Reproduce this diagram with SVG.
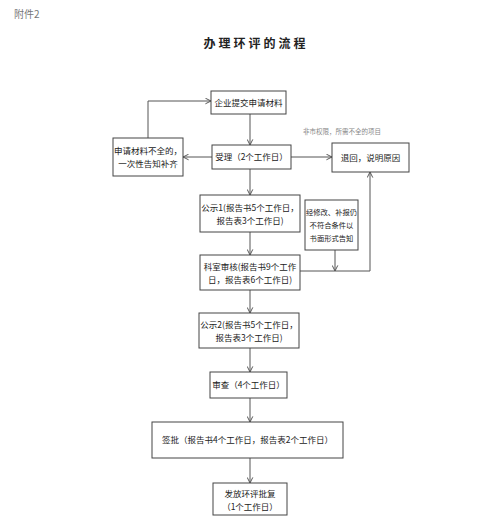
<svg xmlns="http://www.w3.org/2000/svg" width="500" height="526" viewBox="0 0 500 526">
<defs>
<style>
.box{fill:#fff;stroke:#444;stroke-width:1}
.t{font-family:"Noto Sans CJK SC","Liberation Sans",sans-serif;font-size:8.5px;fill:#222;text-anchor:middle}
.s{font-size:7.3px}
.c{fill:none;stroke:#555;stroke-width:1}
</style>
<marker id="a" viewBox="0 0 10 10" refX="9" refY="5" markerWidth="7" markerHeight="7" orient="auto" markerUnits="userSpaceOnUse">
<path d="M1,1 L9,5 L1,9" fill="none" stroke="#555" stroke-width="1.4"/>
</marker>
</defs>
<rect width="500" height="526" fill="#fff"/>
<text x="14" y="18" style="font-family:'Noto Sans CJK SC',sans-serif;font-size:10px;fill:#777">附件2</text>
<text x="256" y="48" style="font-family:'Noto Sans CJK SC',sans-serif;font-size:12px;font-weight:bold;fill:#222;letter-spacing:3px" text-anchor="middle">办理环评的流程</text>
<text x="342" y="134" style="font-family:'Noto Sans CJK SC',serif;font-size:6.5px;fill:#888" text-anchor="middle">非市权限，所需不全的项目</text>
<g id="connectors">
<path class="c" d="M250,114 V145" marker-end="url(#a)"/>
<path class="c" d="M212,157 H183" marker-end="url(#a)"/>
<path class="c" d="M148,138 V101 H211" marker-end="url(#a)"/>
<path class="c" d="M291,157 H332" marker-end="url(#a)"/>
<path class="c" d="M250,169 V195" marker-end="url(#a)"/>
<path class="c" d="M250,232 V255" marker-end="url(#a)"/>
<path class="c" d="M335,250 V271" marker-end="url(#a)"/>
<path class="c" d="M300,271 H370 V172" marker-end="url(#a)"/>
<path class="c" d="M250,290 V313" marker-end="url(#a)"/>
<path class="c" d="M250,348 V372" marker-end="url(#a)"/>
<path class="c" d="M250,398 V422" marker-end="url(#a)"/>
<path class="c" d="M250,458 V483" marker-end="url(#a)"/>
</g>
<g id="n1"><rect class="box" x="211" y="91" width="75" height="23"/><text class="t" x="248.5" y="105.5">企业提交申请材料</text></g>
<g id="n2"><rect class="box" x="212" y="145" width="79" height="24"/><text class="t" x="251.5" y="160">受理（2个工作日）</text></g>
<g id="n3"><rect class="box" x="113" y="138" width="70" height="38"/><text class="t" x="148" y="154">申请材料不全的，</text><text class="t" x="148" y="167">一次性告知补齐</text></g>
<g id="n4"><rect class="box" x="332" y="143" width="77" height="29"/><text class="t" x="370.5" y="160.5">退回，说明原因</text></g>
<g id="n5"><rect class="box" x="200" y="195" width="100" height="37"/><text class="t" x="250" y="211">公示1(报告书5个工作日，</text><text class="t" x="250" y="224">报告表3个工作日)</text></g>
<g id="n6"><rect class="box" x="305" y="200" width="53" height="50"/><text class="t s" x="331.5" y="215">经修改、补报仍</text><text class="t s" x="331.5" y="228">不符合条件以</text><text class="t s" x="331.5" y="241">书面形式告知</text></g>
<g id="n7"><rect class="box" x="200" y="255" width="100" height="35"/><text class="t" x="250" y="270">科室审核(报告书9个工作</text><text class="t" x="250" y="283">日，报告表6个工作日)</text></g>
<g id="n8"><rect class="box" x="199" y="313" width="100" height="35"/><text class="t" x="249" y="328">公示2(报告书5个工作日，</text><text class="t" x="249" y="341">报告表3个工作日)</text></g>
<g id="n9"><rect class="box" x="210" y="372" width="77" height="26"/><text class="t" x="248.5" y="388">审查（4个工作日）</text></g>
<g id="n10"><rect class="box" x="152" y="422" width="191" height="36"/><text class="t" x="247.5" y="443">签批（报告书4个工作日，报告表2个工作日）</text></g>
<g id="n11"><rect class="box" x="213" y="483" width="74" height="32"/><text class="t" x="250" y="497">发放环评批复</text><text class="t" x="250" y="510">（1个工作日）</text></g>
</svg>
